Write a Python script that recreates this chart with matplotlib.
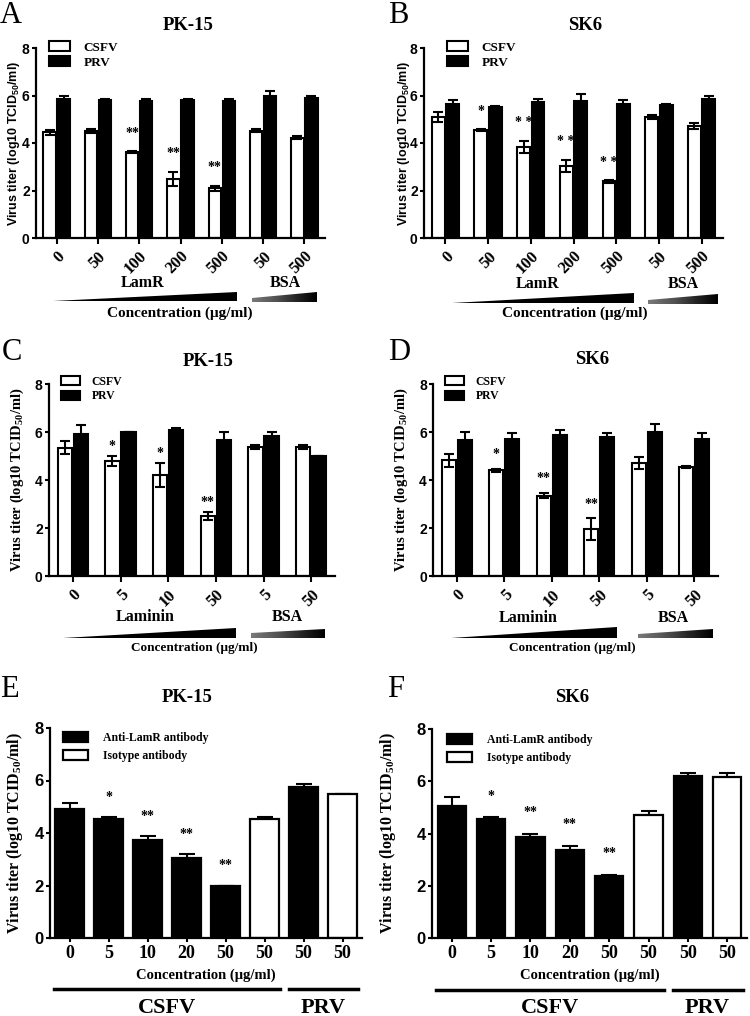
import numpy as np
import matplotlib
matplotlib.use('Agg')
import matplotlib.pyplot as plt
from matplotlib.patches import Polygon, Rectangle
from matplotlib.transforms import blended_transform_factory

W, H = 750, 1016
SERIF = 'Liberation Serif'
SANS = 'Liberation Sans'
plt.rcParams['mathtext.default'] = 'regular'

# A / B : soluble LamR, CSFV vs PRV
lamr_labels = ['0', '50', '100', '200', '500', '50', '500']
a_csfv = [4.45, 4.50, 3.62, 2.50, 2.10, 4.52, 4.22]
a_csfv_err = [0.10, 0.07, 0.05, 0.30, 0.10, 0.07, 0.07]
a_prv = [5.85, 5.80, 5.75, 5.80, 5.75, 6.00, 5.90]
a_prv_err = [0.15, 0.07, 0.10, 0.07, 0.10, 0.20, 0.08]
a_stars = ['', '', '**', '**', '**', '', '']

b_csfv = [5.10, 4.55, 3.85, 3.05, 2.38, 5.10, 4.72]
b_csfv_err = [0.20, 0.03, 0.25, 0.25, 0.05, 0.07, 0.12]
b_prv = [5.65, 5.50, 5.72, 5.78, 5.65, 5.60, 5.85]
b_prv_err = [0.15, 0.05, 0.12, 0.28, 0.15, 0.05, 0.15]
b_stars = ['', '*', '* *', '* *', '* *', '', '']

# C / D : laminin
lam_labels = ['0', '5', '10', '50', '5', '50']
c_csfv = [5.35, 4.78, 4.22, 2.50, 5.38, 5.38]
c_csfv_err = [0.28, 0.20, 0.50, 0.15, 0.07, 0.07]
c_prv = [5.90, 6.00, 6.08, 5.65, 5.82, 4.98]
c_prv_err = [0.38, 0.00, 0.10, 0.35, 0.17, 0.00]
c_stars = ['', '*', '*', '**', '', '']

d_csfv = [4.82, 4.40, 3.35, 1.95, 4.72, 4.55]
d_csfv_err = [0.28, 0.05, 0.12, 0.45, 0.25, 0.05]
d_prv = [5.68, 5.72, 5.88, 5.78, 5.98, 5.72]
d_prv_err = [0.32, 0.25, 0.22, 0.18, 0.35, 0.25]
d_stars = ['', '*', '**', '**', '', '']

# E / F : antibody blocking
ab_labels = ['0', '5', '10', '20', '50', '50', '50', '50']
ab_kind = ['anti', 'anti', 'anti', 'anti', 'anti', 'iso', 'anti', 'iso']
e_vals = [4.93, 4.55, 3.75, 3.05, 2.00, 4.55, 5.75, 5.50]
e_err = [0.20, 0.05, 0.12, 0.15, 0.00, 0.05, 0.12, 0.00]
e_stars = ['', '*', '**', '**', '**', '', '', '']
f_vals = [5.05, 4.57, 3.85, 3.35, 2.38, 4.72, 6.22, 6.18]
f_err = [0.35, 0.05, 0.15, 0.18, 0.05, 0.13, 0.08, 0.15]
f_stars = ['', '*', '**', '**', '**', '', '', '']

fig = plt.figure(figsize=(W / 100, H / 100), dpi=100)


def box(x0, y0, x1, y1):
    return [x0 / W, 1 - y1 / H, (x1 - x0) / W, (y1 - y0) / H]


def ftext(x, y, s, **kw):
    fig.text(x / W, 1 - y / H, s, **kw)


def style_axis(ax, ysize):
    for s in ['top', 'right']:
        ax.spines[s].set_visible(False)
    for s in ['left', 'bottom']:
        ax.spines[s].set_linewidth(1.6)
    ax.set_ylim(0, 8)
    ax.set_yticks([0, 2, 4, 6, 8])
    ax.tick_params(width=1.5, length=4)
    ax.tick_params(axis='y', length=3, pad=1.5)
    for t in ax.get_yticklabels():
        t.set_fontfamily(SANS)
        t.set_fontweight('bold')
        t.set_fontsize(ysize)


def ylabel(ax, x, family, size):
    bb = ax.get_position()
    fig.text(x / W, bb.y0 + bb.height / 2, 'Virus titer (log10 TCID$_{50}$/ml)',
             rotation=90, ha='center', va='center', family=family,
             weight='bold', fontsize=size)


def pair_panel(rect, labels, csfv, csfv_err, prv, prv_err, stars, gap,
               lab_family, lab_size, lab_x, leg_xy, leg_size):
    ax = fig.add_axes(box(*rect))
    x = np.arange(len(labels))
    w, off = 0.3, 0.17
    b1 = ax.bar(x - off, csfv, w, color='white', edgecolor='black', lw=1.5, label='CSFV', zorder=2)
    b2 = ax.bar(x + off, prv, w, color='black', edgecolor='black', lw=1.5, label='PRV', zorder=2)
    ax.errorbar(x - off, csfv, yerr=csfv_err, fmt='none', ecolor='black',
                elinewidth=1.5, capsize=3.5, capthick=1.5, zorder=3)
    ax.errorbar(x + off, prv, yerr=prv_err, fmt='none', ecolor='black',
                elinewidth=1.5, capsize=3.5, capthick=1.5, zorder=1)
    for xi, v, e, s in zip(x, csfv, csfv_err, stars):
        if s:
            ax.text(xi - off, v + e + gap, s, ha='center', va='center',
                    family=SERIF, weight='bold', fontsize=10)
    ax.set_xlim(-0.5, len(labels) - 0.5)
    ax.set_xticks(x)
    ax.set_xticklabels(labels, rotation=45, ha='right', va='top',
                       rotation_mode='anchor', family=SERIF, weight='bold',
                       fontsize=12)
    style_axis(ax, 10)
    ax.legend(handles=[b1, b2], loc='upper left',
              bbox_to_anchor=(leg_xy[0] / W, 1 - leg_xy[1] / H),
              bbox_transform=fig.transFigure, frameon=False, borderpad=0,
              borderaxespad=0, handlelength=1.6, handleheight=0.8,
              handletextpad=1.0, labelspacing=0.2,
              prop={'family': SERIF, 'weight': 'bold', 'size': leg_size})
    ylabel(ax, lab_x, lab_family, lab_size)
    return ax


def wedge(pts, grad=False):
    pts = [(px / W, 1 - py / H) for px, py in pts]
    if not grad:
        fig.patches.append(Polygon(pts, closed=True, facecolor='black',
                                   edgecolor='none', transform=fig.transFigure))
        return
    xs = [p[0] for p in pts]
    ys = [p[1] for p in pts]
    wax = fig.add_axes([min(xs), min(ys), max(xs) - min(xs), max(ys) - min(ys)])
    wax.axis('off')
    g = np.linspace(0.6, 1.0, 200)[None, :]
    im = wax.imshow(g, cmap='Greys', vmin=0, vmax=1, aspect='auto',
                    extent=[0, 1, 0, 1])
    poly = Polygon(pts, closed=True, transform=fig.transFigure,
                   facecolor='none', edgecolor='none')
    wax.add_patch(poly)
    im.set_clip_path(poly)


# ---- A ----
pair_panel((36, 48, 325, 238), lamr_labels, a_csfv, a_csfv_err, a_prv,
           a_prv_err, a_stars, 0.75, SANS, 9, 14, (49, 41), 9.5)
ftext(0, 23, 'A', family=SERIF, fontsize=22, va='baseline')
ftext(188, 25, 'PK-15', family=SERIF, weight='bold', fontsize=13.5, ha='center', va='center')
ftext(143, 283, 'LamR', family=SERIF, weight='bold', fontsize=11.5, ha='center', va='center')
ftext(285, 283, 'BSA', family=SERIF, weight='bold', fontsize=11.5, ha='center', va='center')
ftext(180, 313, 'Concentration (μg/ml)', family=SERIF, weight='bold', fontsize=11, ha='center', va='center')
wedge([(53, 301), (237, 292), (237, 301)])
wedge([(252, 298), (317, 292), (317, 302), (252, 302)], grad=True)

# ---- B ----
pair_panel((424, 48, 723, 238), lamr_labels, b_csfv, b_csfv_err, b_prv,
           b_prv_err, b_stars, 0.75, SANS, 9, 404, (447, 41), 9.5)
ftext(388, 23, 'B', family=SERIF, fontsize=22, va='baseline')
ftext(585, 25, 'SK6', family=SERIF, weight='bold', fontsize=13.5, ha='center', va='center')
ftext(538, 284, 'LamR', family=SERIF, weight='bold', fontsize=11.5, ha='center', va='center')
ftext(683, 284, 'BSA', family=SERIF, weight='bold', fontsize=11.5, ha='center', va='center')
ftext(575, 313, 'Concentration (μg/ml)', family=SERIF, weight='bold', fontsize=11, ha='center', va='center')
wedge([(452, 303), (634, 293), (634, 303)])
wedge([(648, 300), (718, 294), (718, 304), (648, 304)], grad=True)

# ---- C ----
pair_panel((49, 384, 335, 576), lam_labels, c_csfv, c_csfv_err, c_prv,
           c_prv_err, c_stars, 0.4, SERIF, 10.5, 17, (61, 376), 8.5)
ftext(2, 360, 'C', family=SERIF, fontsize=22, va='baseline')
ftext(208, 362, 'PK-15', family=SERIF, weight='bold', fontsize=13.5, ha='center', va='center')
ftext(145, 617, 'Laminin', family=SERIF, weight='bold', fontsize=11.5, ha='center', va='center')
ftext(287, 617, 'BSA', family=SERIF, weight='bold', fontsize=11.5, ha='center', va='center')
ftext(194, 648, 'Concentration (μg/ml)', family=SERIF, weight='bold', fontsize=9.5, ha='center', va='center')
wedge([(63, 638), (236, 628), (236, 638)])
wedge([(251, 633), (325, 629), (325, 638), (251, 638)], grad=True)

# ---- D ----
pair_panel((433, 384, 718, 576), lam_labels, d_csfv, d_csfv_err, d_prv,
           d_prv_err, d_stars, 0.6, SERIF, 10.5, 401, (445, 376), 8.5)
ftext(388, 360, 'D', family=SERIF, fontsize=22, va='baseline')
ftext(592, 360, 'SK6', family=SERIF, weight='bold', fontsize=13.5, ha='center', va='center')
ftext(528, 618, 'Laminin', family=SERIF, weight='bold', fontsize=11.5, ha='center', va='center')
ftext(673, 618, 'BSA', family=SERIF, weight='bold', fontsize=11.5, ha='center', va='center')
ftext(572, 648, 'Concentration (μg/ml)', family=SERIF, weight='bold', fontsize=9.5, ha='center', va='center')
wedge([(451, 638), (617, 627), (617, 638)])
wedge([(638, 634), (713, 629), (713, 638), (638, 638)], grad=True)


# ---- E / F ----
def ab_panel(rect, vals, errs, stars, gap, lab_x, leg_xy, line_y, conc_y, grp_y):
    ax = fig.add_axes(box(*rect))
    x = np.arange(len(vals))
    fills = ['black' if k == 'anti' else 'white' for k in ab_kind]
    ax.bar(x, vals, 0.72, color=fills, edgecolor='black', lw=1.6, zorder=2)
    ax.errorbar(x, vals, yerr=errs, fmt='none', ecolor='black', elinewidth=1.5,
                capsize=6, capthick=1.5, zorder=1)
    for xi, v, e, s in zip(x, vals, errs, stars):
        if s:
            ax.text(xi, v + e + gap, s, ha='center', va='center',
                    family=SERIF, weight='bold', fontsize=10)
    ax.set_xlim(-0.5, len(vals) - 0.5)
    ax.set_xticks(x)
    ax.set_xticklabels(ab_labels, family=SERIF, weight='bold', fontsize=13)
    style_axis(ax, 12)
    ax.tick_params(axis='x', length=3, pad=2)
    h1 = Rectangle((0, 0), 1, 1, facecolor='black', edgecolor='black', lw=1.6)
    h2 = Rectangle((0, 0), 1, 1, facecolor='white', edgecolor='black', lw=1.6)
    ax.legend([h1, h2], ['Anti-LamR antibody', 'Isotype antibody'], loc='upper left',
              bbox_to_anchor=(leg_xy[0] / W, 1 - leg_xy[1] / H),
              bbox_transform=fig.transFigure, frameon=False, borderpad=0,
              borderaxespad=0, handlelength=2.1, handleheight=0.9,
              handletextpad=1.3, labelspacing=0.5,
              prop={'family': SERIF, 'weight': 'bold', 'size': 8.5})
    ylabel(ax, lab_x, SERIF, 11.5)
    bt = blended_transform_factory(ax.transData, fig.transFigure)
    yl = 1 - line_y / H
    ax.plot([-0.4, 5.4], [yl, yl], color='black', lw=2.5, transform=bt, clip_on=False)
    ax.plot([5.62, 7.4], [yl, yl], color='black', lw=2.5, transform=bt, clip_on=False)
    ax.text(2.5, 1 - grp_y / H, 'CSFV', transform=bt, ha='center', va='center',
            family=SERIF, weight='bold', fontsize=16)
    ax.text(6.5, 1 - grp_y / H, 'PRV', transform=bt, ha='center', va='center',
            family=SERIF, weight='bold', fontsize=16)
    ax.text(3.5, 1 - conc_y / H, 'Concentration (μg/ml)', transform=bt,
            ha='center', va='center', family=SERIF, weight='bold', fontsize=10.5)
    return ax


ab_panel((50, 728, 362, 938), e_vals, e_err, e_stars, 0.75, 15, (63, 732), 989, 975, 1008)
ftext(0, 697, 'E', family=SERIF, fontsize=22, va='baseline')
ftext(187, 698, 'PK-15', family=SERIF, weight='bold', fontsize=13.5, ha='center', va='center')

ab_panel((432, 729, 747, 938), f_vals, f_err, f_stars, 0.8, 388, (447, 734), 990, 975, 1008)
ftext(387, 697, 'F', family=SERIF, fontsize=22, va='baseline')
ftext(572, 697, 'SK6', family=SERIF, weight='bold', fontsize=13.5, ha='center', va='center')

fig.savefig('out.png', dpi=100)
